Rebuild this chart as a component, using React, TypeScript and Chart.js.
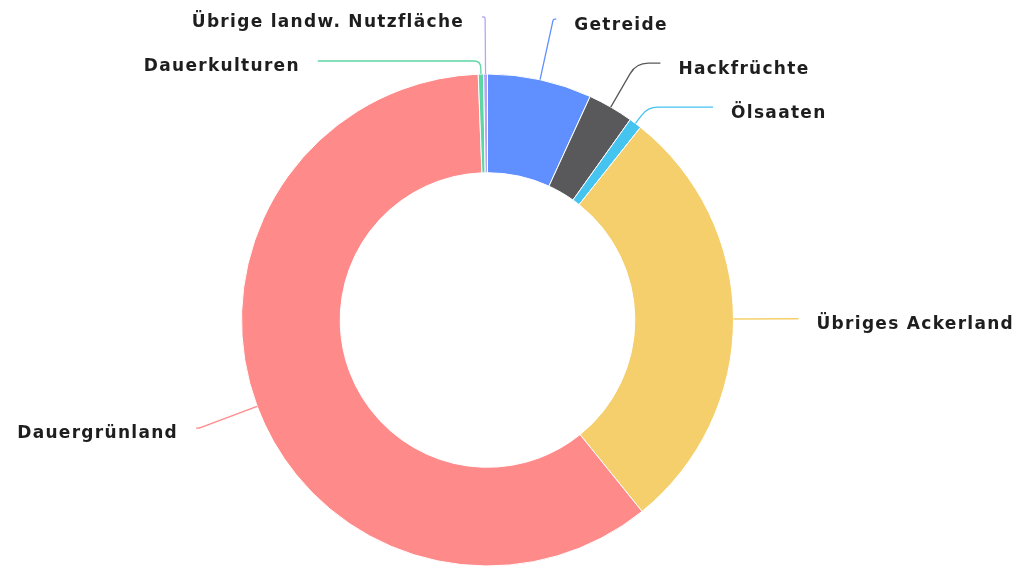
import React, { useEffect, useRef } from 'react';
import { Chart, registerables } from 'chart.js';

Chart.register(...registerables);

const categories = [
  'Getreide',
  'Hackfrüchte',
  'Ölsaaten',
  'Übriges Ackerland',
  'Dauergrünland',
  'Dauerkulturen',
  'Übrige landw. Nutzfläche',
];
const shares = [6.85, 3.0, 0.83, 28.5, 60.2, 0.35, 0.25];
const sliceColors = ['#6090ff', '#59595c', '#45c4ef', '#f4cf6b', '#ff8a8a', '#5cd6a4', '#b8a5f2'];

const FONT = 'bold 17px "DejaVu Sans", sans-serif';

const outerLabels = {
  id: 'outerLabels',
  afterDatasetsDraw(chart: any) {
    const ctx: CanvasRenderingContext2D = chart.ctx;
    const meta = chart.getDatasetMeta(0);
    const L1 = 62, L2 = 3, MIN_GAP = 44, TEXT_GAP = 18, TOP_BOUND = 17;
    const items = meta.data.map((arc: any, i: number) => {
      const p = arc.getProps(['x', 'y', 'startAngle', 'endAngle', 'outerRadius'], true);
      const mid = (p.startAngle + p.endAngle) / 2;
      const cos = Math.cos(mid), sin = Math.sin(mid);
      const p1 = { x: p.x + cos * p.outerRadius, y: p.y + sin * p.outerRadius };
      const r2 = p.outerRadius + L1;
      const p2 = { x: p.x + cos * r2, y: p.y + sin * r2 };
      const dir = cos >= 0 ? 1 : -1;
      let y = p2.y;
      let clamped = false;
      if (y < TOP_BOUND) {
        y = TOP_BOUND;
        clamped = true;
      }
      return { i, cx: p.x, cy: p.y, cos, sin, p1, p2, r2, dir, y, natY: p2.y, clamped, shifted: false };
    });
    [1, -1].forEach((side) => {
      const list = items
        .filter((it: any) => it.dir === side)
        .sort((a: any, b: any) => a.y - b.y || a.natY - b.natY);
      for (let k = 1; k < list.length; k++) {
        if (list[k].y < list[k - 1].y + MIN_GAP) {
          list[k].y = list[k - 1].y + MIN_GAP;
          list[k].shifted = true;
        }
      }
    });
    ctx.save();
    items.forEach((it: any) => {
      let p2 = it.p2;
      let p3;
      if (it.shifted || it.clamped) {
        let t = it.sin !== 0 ? (it.y - it.p1.y) / it.sin : 0;
        if (t < 0) t = 0;
        p2 = { x: it.p1.x + it.cos * t, y: it.y };
      }
      if (it.shifted) {
        const dy = it.y - it.cy;
        const dx = Math.sqrt(Math.max(it.r2 * it.r2 - dy * dy, 0));
        let x3 = it.cx + it.dir * dx + it.dir * L2;
        if (it.dir > 0) x3 = Math.max(x3, p2.x + L2);
        else x3 = Math.min(x3, p2.x - L2);
        p3 = { x: x3, y: it.y };
      } else {
        p3 = { x: p2.x + it.dir * L2, y: p2.y };
      }
      const len1 = Math.hypot(p2.x - it.p1.x, p2.y - it.p1.y);
      const len2 = Math.hypot(p3.x - p2.x, p3.y - p2.y);
      const d = Math.min(len1, len2, 30) * 0.5;
      const a = len1 > 0 ? { x: p2.x + ((it.p1.x - p2.x) / len1) * d, y: p2.y + ((it.p1.y - p2.y) / len1) * d } : p2;
      const b = len2 > 0 ? { x: p2.x + ((p3.x - p2.x) / len2) * d, y: p2.y + ((p3.y - p2.y) / len2) * d } : p2;
      ctx.beginPath();
      ctx.moveTo(it.p1.x, it.p1.y);
      ctx.lineTo(a.x, a.y);
      ctx.quadraticCurveTo(p2.x, p2.y, b.x, b.y);
      ctx.lineTo(p3.x, p3.y);
      ctx.strokeStyle = sliceColors[it.i];
      ctx.lineWidth = 1.3;
      ctx.stroke();
      ctx.font = FONT;
      (ctx as any).letterSpacing = '1.3px';
      ctx.fillStyle = '#1e1e1e';
      ctx.textBaseline = 'middle';
      ctx.textAlign = it.dir > 0 ? 'left' : 'right';
      ctx.fillText(chart.data.labels[it.i], p3.x + it.dir * TEXT_GAP, p3.y + 6);
    });
    ctx.restore();
  },
};

export default function App() {
  const ref = useRef<HTMLCanvasElement>(null);
  useEffect(() => {
    const chart = new Chart(ref.current as HTMLCanvasElement, {
      type: 'doughnut',
      data: {
        labels: categories,
        datasets: [
          {
            data: shares,
            backgroundColor: sliceColors,
            borderColor: '#ffffff',
            borderWidth: 1,
            radius: 246,
            cutout: 147,
          } as any,
        ],
      },
      options: {
        responsive: true,
        maintainAspectRatio: false,
        animation: false,
        layout: { padding: { left: 241.5, right: 295.5, top: 74, bottom: 3 } },
        plugins: { legend: { display: false }, tooltip: { enabled: false } },
      },
      plugins: [outerLabels],
    });
    return () => chart.destroy();
  }, []);
  return (
    <div style={{ position: 'fixed', left: 0, top: 0, width: 1029, height: 569, background: '#fff' }}>
      <canvas ref={ref} />
    </div>
  );
}
